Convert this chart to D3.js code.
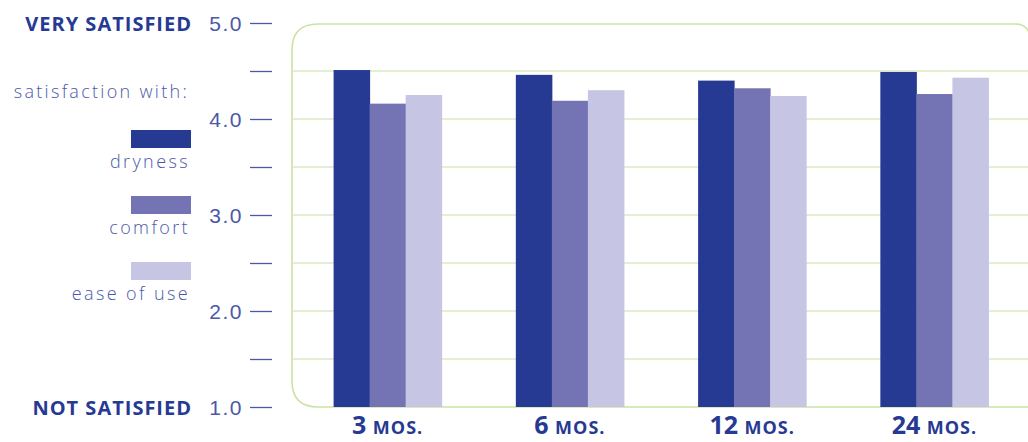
<!DOCTYPE html>
<html lang="en">
<head>
<meta charset="UTF-8">
<title>Satisfaction chart</title>
<script src="https://d3js.org/d3.v7.min.js"></script>
<style>
    body { margin: 0; padding: 0; background: #fff; }
    svg { display: block; font-family: "Open Sans", Arial, sans-serif; }
</style>
</head>
<body>
<svg width="1028" height="442"></svg>
<script>
// data
const periods = ["3", "6", "12", "24"];
const seriesNames = ["dryness", "comfort", "ease of use"];
const dryness = [4.51, 4.46, 4.40, 4.49];
const comfort = [4.16, 4.19, 4.32, 4.26];
const easeOfUse = [4.25, 4.30, 4.24, 4.43];
const tickValues = [1, 1.5, 2, 2.5, 3, 3.5, 4, 4.5, 5];

const colors = ["#263a94", "#7474b5", "#c6c6e4"];
const textLight = "#4b58a8";
const textBold = "#263a94";

const svg = d3.select("svg");
const width = 1028, height = 442;

const y = d3.scaleLinear().domain([1, 5]).range([407, 23]);
const x = d3.scaleBand().domain(periods).range([296.5, 1025.5])
    .paddingInner(0.407).paddingOuter(0.2035);
const xs = d3.scaleBand().domain(seriesNames).range([0, x.bandwidth()]);

// plot frame (rounded box running off the right edge)
const boxL = 292, boxT = 24, boxB = 407, boxR = 1028, rad = 26;
svg.append("path")
    .attr("d", `M${boxR + 30},${boxB} L${boxL + rad},${boxB} Q${boxL},${boxB} ${boxL},${boxB - rad}
                L${boxL},${boxT + rad} Q${boxL},${boxT} ${boxL + rad},${boxT} L${boxR - 12},${boxT}
                Q${boxR + 2},${boxT} ${boxR + 4},${boxT + 20}`)
    .attr("fill", "none")
    .attr("stroke", "#cbe2a4")
    .attr("stroke-width", 1.6);

// gridlines
svg.append("g")
    .selectAll("line")
    .data(tickValues.filter(d => d > 1 && d < 5))
    .join("line")
    .attr("x1", boxL).attr("x2", width)
    .attr("y1", d => y(d)).attr("y2", d => y(d))
    .attr("stroke", "#d9eac2")
    .attr("stroke-width", 1.5);

// y axis ticks
const axis = d3.axisLeft(y)
    .tickValues(tickValues)
    .tickSize(22)
    .tickPadding(7)
    .tickFormat(d => Number.isInteger(d) ? d.toFixed(1) : "");
const axisG = svg.append("g")
    .attr("transform", "translate(272,0)")
    .call(axis);
axisG.select(".domain").remove();
axisG.selectAll(".tick line").attr("stroke", textLight).attr("stroke-width", 1.3);
axisG.selectAll(".tick text")
    .attr("fill", textLight)
    .attr("font-size", 21)
    .attr("font-weight", 300)
    .attr("letter-spacing", 1.5)
    .attr("dy", "0.36em");

// bars
const rows = periods.map((p, i) => ({ period: p, values: [dryness[i], comfort[i], easeOfUse[i]] }));
const groups = svg.append("g")
    .selectAll("g")
    .data(rows)
    .join("g")
    .attr("transform", d => `translate(${x(d.period)},0)`);
groups.selectAll("rect")
    .data(d => d.values.map((v, j) => ({ name: seriesNames[j], value: v, j })))
    .join("rect")
    .attr("x", d => xs(d.name))
    .attr("width", xs.bandwidth() + 0.5)
    .attr("y", d => y(d.value))
    .attr("height", d => y(1) - y(d.value))
    .attr("fill", d => colors[d.j]);

// x labels
const xl = svg.append("g")
    .selectAll("text")
    .data(periods)
    .join("text")
    .attr("x", d => x(d) + x.bandwidth() / 2)
    .attr("y", 434)
    .attr("text-anchor", "middle")
    .attr("fill", textBold)
    .attr("font-weight", 700);
xl.append("tspan").attr("font-size", 25).text(d => d + " ");
xl.append("tspan").attr("font-size", 18).attr("letter-spacing", 1).text("MOS.");

// side labels
svg.append("text")
    .attr("x", 192).attr("y", 31)
    .attr("text-anchor", "end")
    .attr("fill", textBold)
    .attr("font-weight", 700)
    .attr("font-size", 20)
    .attr("letter-spacing", 1)
    .text("VERY SATISFIED");
svg.append("text")
    .attr("x", 192).attr("y", 415)
    .attr("text-anchor", "end")
    .attr("fill", textBold)
    .attr("font-weight", 700)
    .attr("font-size", 20)
    .attr("letter-spacing", 1)
    .text("NOT SATISFIED");
svg.append("text")
    .attr("x", 189).attr("y", 98)
    .attr("text-anchor", "end")
    .attr("fill", textLight)
    .attr("font-size", 18)
    .attr("font-weight", 300)
    .attr("letter-spacing", 2.3)
    .text("satisfaction with:");

// legend
const legend = svg.append("g")
    .selectAll("g")
    .data(seriesNames)
    .join("g")
    .attr("transform", (d, i) => `translate(0,${130 + i * 66})`);
legend.append("rect")
    .attr("x", 131).attr("y", 0)
    .attr("width", 60).attr("height", 18)
    .attr("fill", (d, i) => colors[i]);
legend.append("text")
    .attr("x", 190).attr("y", 38)
    .attr("text-anchor", "end")
    .attr("fill", textLight)
    .attr("font-size", 18)
    .attr("font-weight", 300)
    .attr("letter-spacing", 2.4)
    .text(d => d);
</script>
</body>
</html>
